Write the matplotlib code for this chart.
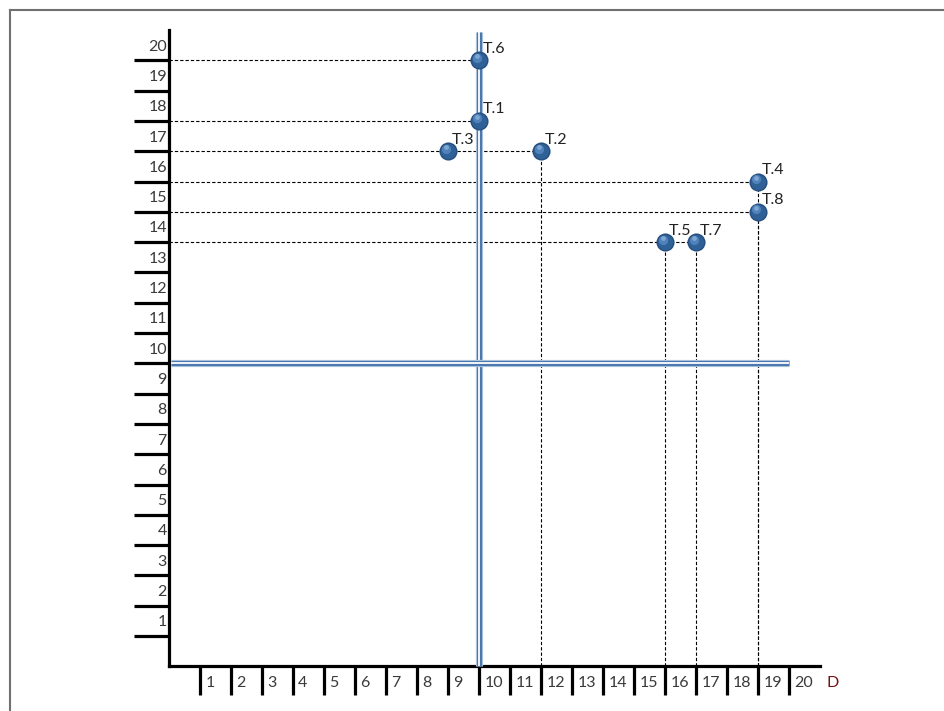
import matplotlib
matplotlib.use("Agg")
import matplotlib.pyplot as plt
from matplotlib.lines import Line2D

# ---- data ----
point_names = ["T.1", "T.2", "T.3", "T.4", "T.5", "T.6", "T.7", "T.8"]
point_x = [10, 12, 9, 19, 16, 10, 17, 19]
point_y = [18, 17, 17, 16, 14, 20, 14, 15]
x_ticks = list(range(1, 21))
y_ticks = list(range(1, 21))
x_tick_labels = [str(v) for v in x_ticks]
y_tick_labels = [str(v) for v in y_ticks]
x_axis_title = "D"
center_x = 10
center_y = 10

FONT = ["Lato", "DejaVu Sans"]
plt.rcParams["font.family"] = FONT

W, H = 944, 711
fig = plt.figure(figsize=(W / 100, H / 100), dpi=100)
ax = fig.add_axes([0, 0, 1, 1])

# pixel mapping: x=k -> 200+(k-1)*31 ; y=k -> 636-(k-1)*30.3 (from top)
sx, sy = 31.0, 30.3
ax.set_xlim(1 - 200 / sx, 1 + (W - 200) / sx)
ax.set_ylim(1 - (H - 636) / sy, 1 + 636 / sy)
ax.set_facecolor("white")

# spines as axes
for s in ["top", "right"]:
    ax.spines[s].set_visible(False)
ax.spines["left"].set_position(("data", 0))
ax.spines["bottom"].set_position(("data", 0))
ax.spines["left"].set_bounds(0, 21.0)
ax.spines["bottom"].set_bounds(0, 21.0)
for s in ["left", "bottom"]:
    ax.spines[s].set_linewidth(2.3)
    ax.spines[s].set_color("black")
    ax.spines[s].set_capstyle("projecting")

ax.set_xticks(x_ticks)
ax.set_yticks(y_ticks)
ax.set_xticklabels([])
ax.set_yticklabels([])
ax.tick_params(axis="y", direction="out", length=25.5, width=2.3, color="black")
ax.tick_params(axis="x", direction="out", length=21, width=2.3, color="black")

# tick labels (placed inside each cell)
lab_col = "#3a3a3a"
for v, t in zip(y_ticks, y_tick_labels):
    ax.text(-0.07, v + 0.45, t, ha="right", va="center", fontsize=11.5, color=lab_col)
for v, t in zip(x_ticks, x_tick_labels):
    ax.text(v + 0.17, -0.55, t, ha="left", va="center", fontsize=11.5, color=lab_col)
ax.text(21.4, -0.55, x_axis_title, ha="center", va="center", fontsize=11.5,
        color="#7a1010")

# dashed guide lines
dash = dict(color="black", linewidth=0.8, linestyle=(0, (3, 1.8)), zorder=2)
rows = {}
for px, py in zip(point_x, point_y):
    rows[py] = max(rows.get(py, 0), px)
for py, pmax in rows.items():
    ax.plot([0, pmax], [py, py], **dash)
for px, py in zip(point_x, point_y):
    if px > center_x:
        ax.plot([px, px], [0, py], **dash)

# double blue center lines
def dbl(xs, ys):
    ax.plot(xs, ys, color="#b7cce3", linewidth=5.2, solid_capstyle="butt", zorder=3)
    ax.plot(xs, ys, color="#4b79ae", linewidth=3.8, solid_capstyle="butt", zorder=3)
    ax.plot(xs, ys, color="white", linewidth=1.3, solid_capstyle="butt", zorder=3)

dbl([center_x, center_x], [0, 20.93])
dbl([0.05, 20], [center_y, center_y])

# points (shaded spheres)
ax.scatter(point_x, point_y, s=170, color="#264f80", zorder=5, linewidths=0)
ax.scatter(point_x, point_y, s=120, color="#2f6096", zorder=6, linewidths=0)
ax.scatter([x - 0.05 for x in point_x], [y + 0.08 for y in point_y], s=45,
           color="#4f82ba", zorder=7, linewidths=0)
ax.scatter([x - 0.07 for x in point_x], [y + 0.13 for y in point_y], s=12,
           color="#7ea7d3", zorder=8, linewidths=0)

for n, px, py in zip(point_names, point_x, point_y):
    ax.text(px + 0.13, py + 0.38, n, ha="left", va="center", fontsize=11.5,
            color="#222222", zorder=9)

# outer frame (gray border at left and top)
fig.add_artist(Line2D([10 / W, 10 / W], [0, 1 - 10 / H], transform=fig.transFigure,
                      color="#707070", linewidth=1.5))
fig.add_artist(Line2D([10 / W, 1], [1 - 10 / H, 1 - 10 / H], transform=fig.transFigure,
                      color="#707070", linewidth=1.5))

fig.savefig("out.png", dpi=100, facecolor="white")
